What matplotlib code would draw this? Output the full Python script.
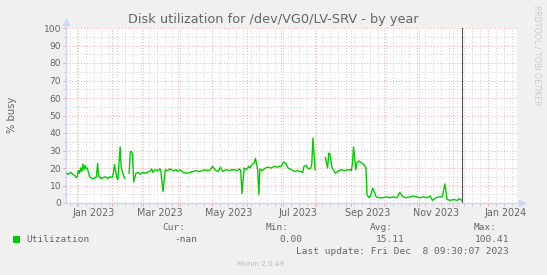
import matplotlib
matplotlib.use('Agg')
import matplotlib.pyplot as plt
import matplotlib.dates as mdates
import matplotlib.transforms as mtransforms
import numpy as np
from datetime import datetime, timedelta

# dados (dias a partir de 22/12/2022, % busy)
inicio = datetime(2022, 12, 22, 14, 0)
agora = datetime(2023, 12, 8, 9, 30, 7)
fim = inicio + timedelta(days=400)

dias = [0, 2, 4, 6, 8, 9, 10, 11, 12, 13, 14, 15, 16, 17, 18, 19, 20, 21, 23, 25,
        27, 28, 29, 31, 33, 35, 37, 39, 41, 42, 43, 45, 46, 48, 49, 51, 52, 54, 56, 57,
        58, 59, 60, 62, 64, 66, 68, 70, 72, 74, 75, 76, 77, 79, 82, 83, 84, 86, 88, 90,
        92, 95, 98, 99, 101, 104, 107, 110, 113, 115, 118, 121, 123, 126, 128, 130, 132, 135, 137, 139,
        142, 145, 147, 150, 152, 154, 155, 156, 158, 160, 162, 163, 165, 167, 168, 170, 171, 172, 174, 177,
        179, 182, 185, 187, 190, 191, 193, 195, 197, 200, 203, 205, 208, 210, 211, 213, 215, 217, 218, 219,
        221, 228, 230, 232, 233, 234, 236, 239, 242, 244, 247, 250, 252, 253, 254, 255, 257, 258, 260, 262,
        264, 266, 267, 269, 270, 272, 274, 275, 278, 281, 284, 287, 290, 293, 294, 296, 299, 302, 305, 308,
        311, 314, 317, 320, 323, 325, 328, 331, 333, 334, 336, 338, 341, 344, 347, 349, 351]
utilizacao = [17, 16.5, 17.5, 16.5, 15.5, 14.5, 15, 18.5, 17, 20, 18, 22.3, 19, 21.5, 19.5, 20, 17, 15, 14, 14,
              15, 22.6, 15.5, 14, 14.5, 15, 14, 15, 14.5, 17, 22, 14.5, 13.5, 32, 20, 16, 14, np.nan, 17, 29.3,
              29.5, 28, 12, 17, 17.5, 16.5, 17.5, 17, 17.5, 18, 18.5, 19.5, 17.5, 19, 18.5, 19.5, 19, 6.5, 19, 18.5,
              19.5, 18.5, 19, 18, 19, 17.5, 17, 17.5, 18, 18.5, 18, 18.5, 19, 18.5, 19, 21, 19, 18, 20.5, 18,
              19, 18.5, 19, 19, 18.5, 19.5, 18.5, 5.5, 20, 19, 21, 20, 22, 23, 25.5, 19, 5, 19.5, 18.5, 20,
              20.5, 20, 21, 20.5, 21, 21, 23.5, 22.5, 20, 19, 18, 18.5, 18, 17.5, 21, 21.5, 19.5, 20, 22.5, 37,
              19, np.nan, 26, 20, 28.5, 28, 20, 17, 18.5, 19, 18.5, 19, 19, 18.5, 22, 32, 19, 23, 24, 23,
              22, 20, 4.6, 3, 4, 8.5, 5.5, 3.5, 3, 3, 3.5, 3, 3.5, 3, 3.5, 6, 3.5, 3, 3.5, 4,
              3.5, 3, 3.5, 3, 4, 1.5, 3, 3.5, 3.5, 4, 10.9, 2, 1.5, 2, 1.5, 2.5, 1.5]

datas = [inicio + timedelta(days=d) for d in dias]

W, H = 547, 275
fig = plt.figure(figsize=(W / 100, H / 100), dpi=100, facecolor='#F0F0F0')
ax = fig.add_axes([66 / W, 1 - 203 / H, 451 / W, 175 / H])
ax.set_facecolor('#FFFFFF')

def px(x, y):
    return x / W, 1 - y / H

cor_fonte = '#666666'
cor_eixo = '#CFD6F8'
cor_mgrid = '#F0A8A8'
cor_grid = '#D0D0D0'

ax.set_xlim(inicio, fim)
ax.set_ylim(0, 100)

# grades
ax.xaxis.set_major_locator(mdates.MonthLocator())
ax.xaxis.set_minor_locator(mdates.WeekdayLocator(byweekday=mdates.MO))
ax.xaxis.set_major_formatter(plt.NullFormatter())
ax.set_yticks(range(0, 101, 10))
ax.set_yticks(range(5, 100, 10), minor=True)
ax.grid(which='minor', color=cor_grid, linestyle=(0, (1, 2)), linewidth=0.7)
ax.grid(which='major', color=cor_mgrid, linestyle=(0, (1, 2)), linewidth=0.7)
ax.set_axisbelow(True)
ax.tick_params(which='major', length=2, width=0.7, color=cor_mgrid, labelsize=6.6,
               labelcolor=cor_fonte, pad=1.5)
ax.tick_params(which='minor', length=2, width=0.7, color=cor_grid)
for s in ax.spines.values():
    s.set_visible(False)

# rotulos dos meses (centralizados no meio do mes)
trans = mtransforms.blended_transform_factory(ax.transData, ax.transAxes)
meses = ['Jan 2023', 'Mar 2023', 'May 2023', 'Jul 2023', 'Sep 2023', 'Nov 2023', 'Jan 2024']
for rotulo in meses:
    t = datetime.strptime(rotulo, '%b %Y') + timedelta(days=15)
    ax.text(t, -0.057, rotulo, transform=trans, ha='center', va='center',
            fontsize=6.9, color=cor_fonte)

# eixos com setas
ax.plot([0, 0], [0, 1.03], transform=ax.transAxes, color=cor_eixo, lw=1, clip_on=False)
ax.plot([0, 1.008], [0, 0], transform=ax.transAxes, color=cor_eixo, lw=1, clip_on=False)
ax.plot([0], [1.035], transform=ax.transAxes, marker='^', ms=4, color=cor_eixo, clip_on=False)
ax.plot([1.012], [0], transform=ax.transAxes, marker='>', ms=4, color=cor_eixo, clip_on=False)

ax.plot(datas, utilizacao, color='#00CC00', lw=1)
ax.axvline(agora, color='#555555', lw=0.8)

fig.text(0.5, 1 - 19 / H, 'Disk utilization for /dev/VG0/LV-SRV - by year',
         ha='center', va='center', fontsize=9.3, color=cor_fonte)
fig.text(*px(12, 115), '% busy', rotation=90, ha='center', va='center',
         fontsize=7.2, color=cor_fonte)
fig.text(*px(537, 5), 'RRDTOOL / TOBI OETIKER', rotation=270, ha='center', va='top',
         fontsize=5.7, color='#CCCCCC')

# legenda
mono = 'DejaVu Sans Mono'
fig.patches.append(plt.Rectangle(px(13, 243), 7 / W, 7 / H, transform=fig.transFigure,
                                 facecolor='#00CC00', edgecolor='none'))
fig.text(*px(26, 239), 'Utilization', ha='left', va='center', fontsize=6.8,
         color=cor_fonte, family=mono)
colunas = [('Cur:', 185, '-nan', 197), ('Min:', 289, '0.00', 302),
           ('Avg:', 393, '15.11', 405), ('Max:', 497, '100.41', 509)]
for nome, x1, valor, x2 in colunas:
    fig.text(*px(x1, 228), nome, ha='right', va='center', fontsize=6.8,
             color=cor_fonte, family=mono)
    fig.text(*px(x2, 239), valor, ha='right', va='center', fontsize=6.8,
             color=cor_fonte, family=mono)
fig.text(*px(509, 252), 'Last update: Fri Dec  8 09:30:07 2023', ha='right', va='center',
         fontsize=6.8, color=cor_fonte, family=mono)
fig.text(*px(261, 264), 'Munin 2.0.49', ha='center', va='center', fontsize=5.2,
         color='#BBBBBB')

fig.savefig('out.png', dpi=100, facecolor=fig.get_facecolor())
